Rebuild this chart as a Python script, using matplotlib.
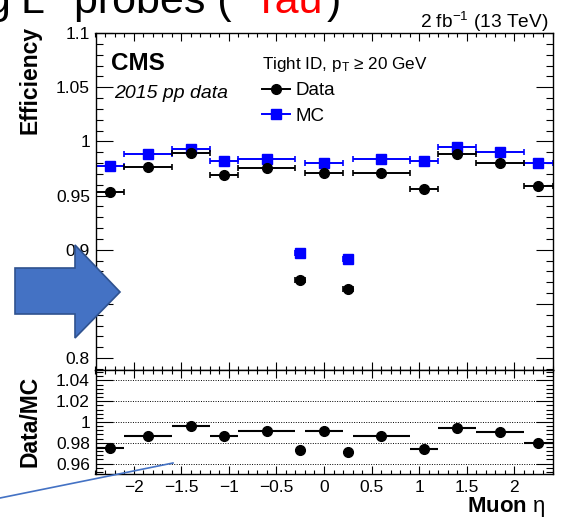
import matplotlib
matplotlib.use('Agg')
import numpy as np
import matplotlib.pyplot as plt
from matplotlib.ticker import MultipleLocator, FuncFormatter
from matplotlib.lines import Line2D
from matplotlib.patches import Polygon

plt.rcParams['font.family'] = ['Liberation Sans', 'DejaVu Sans']
plt.rcParams['mathtext.fontset'] = 'custom'
plt.rcParams['mathtext.rm'] = 'Liberation Sans'
plt.rcParams['mathtext.it'] = 'Liberation Sans:italic'
plt.rcParams['mathtext.bf'] = 'Liberation Sans:bold'

# muon eta binning and efficiencies
eta_edges = [-2.4, -2.1, -1.6, -1.2, -0.9, -0.3, -0.2, 0.2, 0.3, 0.9, 1.2, 1.6, 2.1, 2.4]
eff_data = [0.953, 0.976, 0.989, 0.969, 0.975, 0.872, 0.971, 0.864, 0.971, 0.956, 0.988, 0.980, 0.959]
eff_mc = [0.977, 0.988, 0.993, 0.982, 0.984, 0.897, 0.980, 0.891, 0.984, 0.982, 0.995, 0.990, 0.980]
ratio = [0.975, 0.987, 0.996, 0.987, 0.991, 0.973, 0.991, 0.971, 0.987, 0.974, 0.994, 0.990, 0.980]

edges = np.array( eta_edges )
centers = 0.5 * ( edges[1:] + edges[:-1] )
halfw = 0.5 * ( edges[1:] - edges[:-1] )

W, H = 564., 526.
fig = plt.figure( figsize = ( W / 100, H / 100 ), dpi = 100 )

left = 95.5 / W
width = 457. / W
ax1 = fig.add_axes( [ left, ( H - 370 ) / H, width, 337. / H ] )
ax2 = fig.add_axes( [ left, ( H - 474 ) / H, width, 104. / H ] )

ax1.errorbar( centers, eff_mc, xerr = halfw, fmt = 's', color = '#0000ff', ms = 6.5,
              lw = 1.4, capsize = 2, capthick = 1.2 )
ax1.errorbar( centers, eff_data, xerr = halfw, fmt = 'o', color = 'k', ms = 7,
              lw = 1.4, capsize = 2, capthick = 1.2 )
ax2.errorbar( centers, ratio, xerr = halfw, fmt = 'o', color = 'k', ms = 7, lw = 1.5 )

ax1.set_xlim( -2.4, 2.4 )
ax1.set_ylim( 0.789, 1.1 )
ax2.set_xlim( -2.4, 2.4 )
ax2.set_ylim( 0.95, 1.05 )

def fmt( v, pos ):
    v = round( v, 4 ) + 0.0
    return ( '%g' % v ).replace( '-', '\u2212' )

for ax in ( ax1, ax2 ):
    ax.tick_params( which = 'both', direction = 'in', top = True, right = True,
                    labelsize = 12.5, width = 0.8, pad = 4 )
    ax.tick_params( axis = 'y', which = 'major', length = 12 )
    ax.tick_params( axis = 'y', which = 'minor', length = 5 )
    ax.tick_params( axis = 'x', which = 'major', length = 6 )
    ax.tick_params( axis = 'x', which = 'minor', length = 3 )
    ax.xaxis.set_major_locator( MultipleLocator( 0.5 ) )
    ax.xaxis.set_minor_locator( MultipleLocator( 0.1 ) )
    ax.xaxis.set_major_formatter( FuncFormatter( fmt ) )
    ax.yaxis.set_major_formatter( FuncFormatter( fmt ) )
    for s in ax.spines.values():
        s.set_linewidth( 1.0 )

ax1.yaxis.set_major_locator( MultipleLocator( 0.05 ) )
ax1.yaxis.set_minor_locator( MultipleLocator( 0.01 ) )
ax1.tick_params( axis = 'x', labelbottom = False )
ax2.yaxis.set_major_locator( MultipleLocator( 0.02 ) )
ax2.yaxis.set_minor_locator( MultipleLocator( 0.004 ) )
ax2.yaxis.grid( True, which = 'major', color = 'k', lw = 0.7, linestyle = ( 0, ( 1, 1.5 ) ) )

handles = [ Line2D( [], [], color = 'k', marker = 'o', ms = 7, lw = 1.4 ),
            Line2D( [], [], color = '#0000ff', marker = 's', ms = 6.5, lw = 1.4 ) ]
leg = ax1.legend( handles, [ 'Data', 'MC' ], title = 'Tight ID, $\\mathrm{p}_{\\mathrm{T}}$ \u2265 20 GeV',
                  loc = 'upper left', bbox_to_anchor = ( 0.364, 0.936 ), frameon = False,
                  fontsize = 13.5, title_fontsize = 12.3, alignment = 'left',
                  handlelength = 1.5, handletextpad = 0.3, labelspacing = 0.45,
                  borderpad = 0, borderaxespad = 0 )

fig.text( 111.5 / W, 1 - 64 / H, 'CMS', weight = 'bold', size = 17.5, va = 'center' )
fig.text( 114 / W, 1 - 94 / H, '2015 pp data', style = 'italic', size = 14, va = 'center' )
fig.text( 548 / W, 1 - 22 / H, '2 fb$^{-1}$ (13 TeV)', size = 13.8, ha = 'right', va = 'center' )
fig.text( 30 / W, 1 - 26 / H, 'Efficiency', rotation = 90, weight = 'bold', size = 16.5,
          ha = 'center', va = 'top' )
fig.text( 30 / W, 1 - 421 / H, 'Data/MC', rotation = 90, weight = 'bold', size = 16.5,
          ha = 'center', va = 'center' )
fig.text( 545 / W, 1 - 512 / H, '$\\mathbf{Muon}$ \u03b7', size = 16, ha = 'right', va = 'baseline' )

# slide overlay: cut-off title, arrow and pointer line
fig.text( 10 / W, 1 - 13 / H, 'g', size = 31, ha = 'right', va = 'baseline' )
fig.text( 20 / W, 1 - 13 / H, 'L', size = 31, ha = 'left', va = 'baseline' )
fig.text( 232 / W, 1 - 13 / H, 'probes (', size = 31, ha = 'right', va = 'baseline' )
fig.text( 253 / W, 1 - 13 / H, 'Tau', size = 31, color = 'red', ha = 'left', va = 'baseline' )
fig.text( 327 / W, 1 - 13 / H, ')', size = 31, ha = 'left', va = 'baseline' )

arrow = [ ( 15, 268 ), ( 75, 268 ), ( 75, 245 ), ( 120, 292 ), ( 75, 338 ), ( 75, 314 ), ( 15, 314 ) ]
fig.add_artist( Polygon( [ ( x / W, 1 - y / H ) for x, y in arrow ], closed = True,
                         transform = fig.transFigure, facecolor = '#4472C4',
                         edgecolor = '#2F528F', lw = 1.2 ) )
fig.add_artist( Line2D( [ 0, 173 / W ], [ 1 - 498 / H, 1 - 463 / H ], transform = fig.transFigure,
                        color = '#4472C4', lw = 1.2 ) )

fig.savefig( 'out.png', dpi = 100 )
